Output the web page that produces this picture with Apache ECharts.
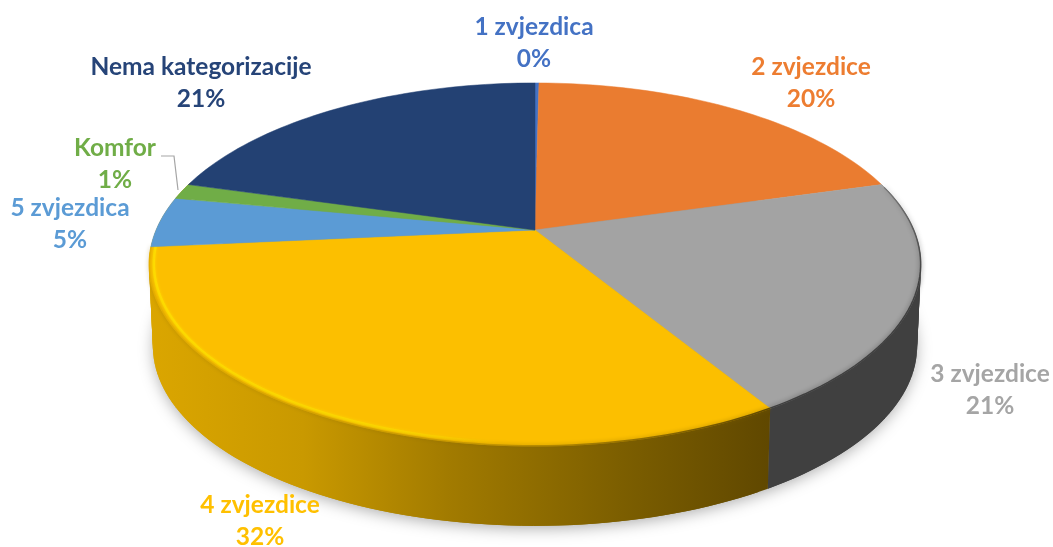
<!doctype html>
<html>
<head>
<meta charset="UTF-8">
<title>Kategorije</title>
<script src="https://cdn.jsdelivr.net/npm/echarts@6/dist/echarts.min.js"></script>
<style>
html, body { margin: 0; padding: 0; background: #fff; }
#main { width: 1053px; height: 547px; }
</style>
</head>
<body>
<div id="main"></div>
<script>
// podaci
var categories = ['1 zvjezdica', '2 zvjezdice', '3 zvjezdice', '4 zvjezdice', '5 zvjezdica', 'Komfor', 'Nema kategorizacije'];
var shares = [0.2, 20.4, 20.7, 32.2, 4.5, 1.4, 20.6];
var colors = ['#4472c4', '#ea7c30', '#a3a3a3', '#fcbf00', '#5b9bd5', '#70ad47', '#234173'];
var labelColors = ['#4472c4', '#ed7d31', '#a5a5a5', '#ffc000', '#5b9bd5', '#70ad47', '#264478'];

// gdje stoje natpisi (sredina dva retka)
var labelX = [534, 811, 990, 260, 70, 115, 201];
var labelY = [43, 83, 390, 521, 224, 164, 83];

// projekcija kruga u perspektivi
var CX = 535, CY = 230, RX = 379, RY = 175, PERSP = 0.19;
var DEPTH = 82, BOTTOM_SCALE = 0.99;

function project(deg, r, lower) {
    var t = deg * Math.PI / 180;
    var x = r * Math.sin(t), y = -r * Math.cos(t);
    var w = 1 - PERSP * y;
    var s = lower ? BOTTOM_SCALE : 1;
    return [CX + s * RX * x / w, CY + (lower ? DEPTH : 0) + s * RY * y / w];
}

function arc(a0, a1, r, lower) {
    var pts = [], n = Math.max(2, Math.ceil(Math.abs(a1 - a0) / 1.5));
    for (var i = 0; i <= n; i++) {
        pts.push(project(a0 + (a1 - a0) * i / n, r, lower));
    }
    return pts;
}

function xGradient(stops) {
    return new echarts.graphic.LinearGradient(CX - RX - 10, 0, CX + RX - 140, 0, stops, true);
}

// kumulativni kutovi
var total = shares.reduce(function (a, b) { return a + b; }, 0);
var sum = 0;
var sliceData = categories.map(function (name, i) {
    var start = sum / total * 360;
    sum += shares[i];
    return [i, start, sum / total * 360, shares[i]];
});

// vidljivi su samo bokovi kriski 3 i 4 zvjezdice, ostali su iza gornje plohe
function renderWall(params, api) {
    var i = api.value(0), a0 = api.value(1), a1 = api.value(2);
    if (i !== 2 && i !== 3) return null;
    var fill = '#404040';
    if (i === 3) {
        a1 += 22;
        fill = xGradient([
            {offset: 0, color: '#dba600'},
            {offset: 0.25, color: '#c99900'},
            {offset: 0.48, color: '#a27b00'},
            {offset: 0.75, color: '#7d5f00'},
            {offset: 1, color: '#5f4700'}
        ]);
    }
    var top = arc(a0, a1, 1, false), low = arc(a0, a1, 1, true);
    var quads = [];
    for (var k = 0; k < top.length - 1; k++) {
        // kriske se malo preklapaju da se ne vide spojevi
        var next = Math.min(k + 2, top.length - 1);
        quads.push({
            type: 'polygon',
            shape: {points: [top[k], top[next], low[next], low[k]]},
            style: {fill: fill},
            silent: true
        });
    }
    return {type: 'group', children: quads};
}

function renderTop(params, api) {
    var i = api.value(0), a0 = api.value(1), a1 = api.value(2);
    var children = [{
        type: 'polygon',
        shape: {points: [[CX, CY]].concat(arc(a0, a1, 1, false))},
        style: {fill: colors[i], stroke: colors[i], lineWidth: 0.5},
        silent: true
    }];
    // rub gornje plohe
    if (i === 2) {
        var dark = new echarts.graphic.LinearGradient(0, 190, 0, 280, [
            {offset: 0, color: 'rgba(64,64,64,0.35)'},
            {offset: 1, color: 'rgba(64,64,64,1)'}
        ], true);
        children.push({
            type: 'polyline',
            shape: {points: arc(a0 + 1, a1, 0.999, false)},
            style: {fill: null, stroke: dark, lineWidth: 1.5, shadowBlur: 5, shadowColor: 'rgba(64,64,64,0.9)'},
            silent: true
        });
    }
    if (i === 3) {
        var bright = xGradient([
            {offset: 0, color: '#ffdc00'},
            {offset: 0.38, color: '#ffd800'},
            {offset: 0.56, color: 'rgba(255,216,0,0)'},
            {offset: 1, color: 'rgba(255,216,0,0)'}
        ]);
        var edge = xGradient([
            {offset: 0, color: 'rgba(225,170,0,0.6)'},
            {offset: 0.5, color: 'rgba(190,145,0,0.7)'},
            {offset: 1, color: 'rgba(95,71,0,1)'}
        ]);
        children.push({
            type: 'polyline',
            shape: {points: arc(a0, a1, 0.988, false)},
            style: {fill: null, stroke: bright, lineWidth: 2.5, shadowBlur: 3, shadowColor: '#ffd800'},
            silent: true
        });
        children.push({
            type: 'polyline',
            shape: {points: arc(a0, a1, 0.999, false)},
            style: {fill: null, stroke: edge, lineWidth: 1.5, shadowBlur: 4, shadowColor: 'rgba(120,90,0,0.7)'},
            silent: true
        });
    }
    return {type: 'group', children: children};
}

function renderLabel(params, api) {
    var i = api.value(0);
    var text = categories[i] + '\n' + Math.round(api.value(3)) + '%';
    return {
        type: 'text',
        style: {
            text: text, x: labelX[i], y: labelY[i],
            fill: labelColors[i],
            font: 'bold 24.5px Lato, "Noto Sans", sans-serif',
            lineHeight: 32,
            align: 'center', verticalAlign: 'middle'
        },
        silent: true
    };
}

function renderShadow(params) {
    return {
        type: 'polygon',
        shape: {points: arc(0, 360, 0.996, true)},
        style: {fill: '#888', shadowBlur: 16, shadowColor: 'rgba(0,0,0,0.35)', shadowOffsetY: 3},
        silent: true
    };
}

function renderLeader(params) {
    return {
        type: 'polyline',
        shape: {points: [[161, 156], [174, 156], [178, 190]]},
        style: {fill: null, stroke: '#a5a5a5', lineWidth: 1.2},
        silent: true
    };
}

var myChart = echarts.init(document.getElementById('main'), null, {renderer: 'canvas'});
myChart.setOption({
    animation: false,
    backgroundColor: '#ffffff',
    series: [
        {type: 'custom', coordinateSystem: 'none', data: [[0]], renderItem: renderShadow, z: 1},
        {type: 'custom', coordinateSystem: 'none', data: sliceData, renderItem: renderWall, z: 2},
        {type: 'custom', coordinateSystem: 'none', data: sliceData, renderItem: renderTop, z: 3},
        {type: 'custom', coordinateSystem: 'none', data: [[0]], renderItem: renderLeader, z: 4},
        {type: 'custom', coordinateSystem: 'none', data: sliceData, renderItem: renderLabel, z: 5}
    ]
});
</script>
</body>
</html>
